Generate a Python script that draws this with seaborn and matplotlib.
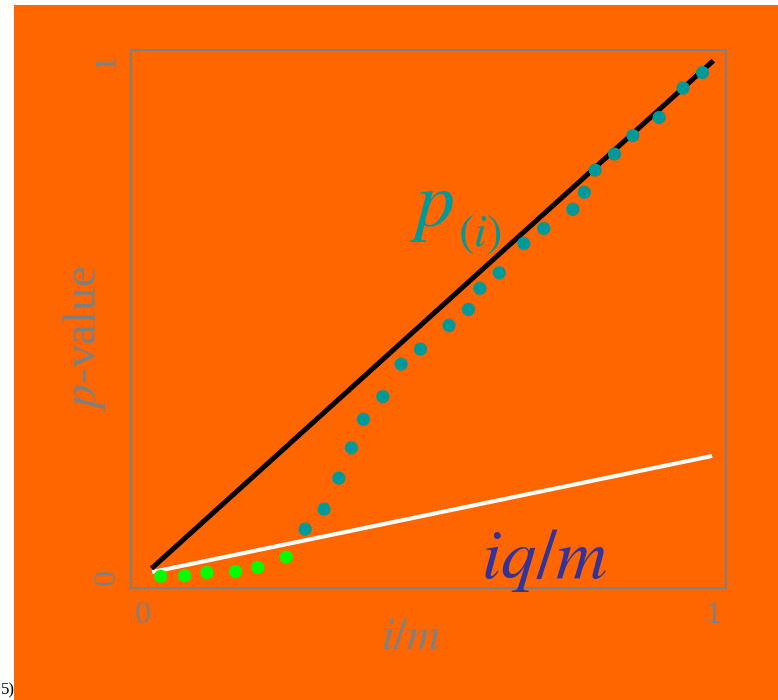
import matplotlib
matplotlib.use("Agg")
import matplotlib.pyplot as plt
import seaborn as sns
import pandas as pd
from matplotlib.patches import Rectangle

# Sorted p-values p_(i) against their rank fraction i/m
rank_frac = [0.032, 0.074, 0.113, 0.163, 0.202, 0.252, 0.285, 0.318, 0.344,
             0.366, 0.387, 0.421, 0.453, 0.487, 0.537, 0.571, 0.591, 0.625,
             0.668, 0.703, 0.754, 0.774, 0.793, 0.827, 0.859, 0.905, 0.947,
             0.981]
p_sorted = [0.001, 0.002, 0.008, 0.010, 0.018, 0.038, 0.092, 0.131, 0.191,
            0.250, 0.305, 0.349, 0.412, 0.441, 0.487, 0.518, 0.559, 0.589,
            0.646, 0.675, 0.712, 0.745, 0.788, 0.819, 0.855, 0.890, 0.947,
            0.977]
n_rejected = 6
status = ["rejected"] * n_rejected + ["retained"] * (len(p_sorted) - n_rejected)

# Reference lines: identity and the threshold iq/m
diag_x = [0.016, 1.0]
diag_y = [0.016, 1.0]
thr_x = [0.017, 0.998]
thr_y = [0.009, 0.234]

ORANGE = "#FF6600"
TEAL = "#009999"
GREEN = "#00FF00"
GRAY = "#808080"
NAVY = "#333399"

sns.set_style("white")
plt.rcParams["font.family"] = ["Liberation Serif", "DejaVu Serif"]
plt.rcParams["mathtext.fontset"] = "stix"

fig = plt.figure(figsize=(7.78, 7.00), dpi=100, facecolor="white")
fig.patches.append(Rectangle((14 / 778, 0), 1 - 14 / 778, 1 - 5 / 700,
                             transform=fig.transFigure, facecolor=ORANGE,
                             edgecolor="none", zorder=-10))

ax = fig.add_axes([131 / 778, 1 - 588 / 700, 595 / 778, 538 / 700])
ax.set_zorder(1)
ax.set_facecolor(ORANGE)

df = pd.DataFrame({"frac": rank_frac, "p": p_sorted, "status": status})

sns.lineplot(x=thr_x, y=thr_y, color="white", lw=2.9, ax=ax,
             solid_capstyle="butt", zorder=2)
sns.lineplot(x=diag_x, y=diag_y, color="black", lw=3.6, ax=ax,
             solid_capstyle="butt", zorder=2)
sns.scatterplot(data=df, x="frac", y="p", hue="status",
                palette={"rejected": GREEN, "retained": TEAL},
                s=90, linewidth=0, legend=False, ax=ax, zorder=3)

ax.set_xlim(-0.0201, 1.0222)
ax.set_ylim(-0.0219, 1.0207)

ax.set_xticks([0, 1])
ax.set_xticklabels(["0", "1"])
ax.set_yticks([0, 1])
ax.set_yticklabels(["0", "1"], rotation=90, va="center")
ax.tick_params(axis="both", length=0, labelcolor=GRAY, labelsize=23)
ax.tick_params(axis="x", pad=9.5)
ax.tick_params(axis="y", pad=7)

for sp in ax.spines.values():
    sp.set_visible(True)
    sp.set_color(GRAY)
    sp.set_linewidth(1.5)

ax.set_xlabel("$i/m$", color=GRAY, fontsize=33)
ax.xaxis.set_label_coords((411 - 131) / 595, (588 - 637) / 538)
ax.xaxis.label.set_va("center")
ax.set_ylabel("$p$-value", color=GRAY, fontsize=34)
ax.yaxis.set_label_coords((84 - 131) / 595, (588 - 338) / 538)
ax.yaxis.label.set_va("center")

# p_(i) label: large italic p with a lowered subscript
ax.text(0.469, 0.680, "$p$", color=TEAL, fontsize=56,
        ha="left", va="baseline")
ax.text(0.552, 0.641, "$(i)$", color=TEAL, fontsize=33,
        ha="left", va="baseline")
ax.text(0.704, -0.0025, "$iq/m$", color=NAVY, fontsize=51,
        ha="center", va="baseline")

fig.text(0.001, 0.003, "5)", color="black", fontsize=12, ha="left", va="bottom")

fig.savefig("out.png", dpi=100, facecolor=fig.get_facecolor())
